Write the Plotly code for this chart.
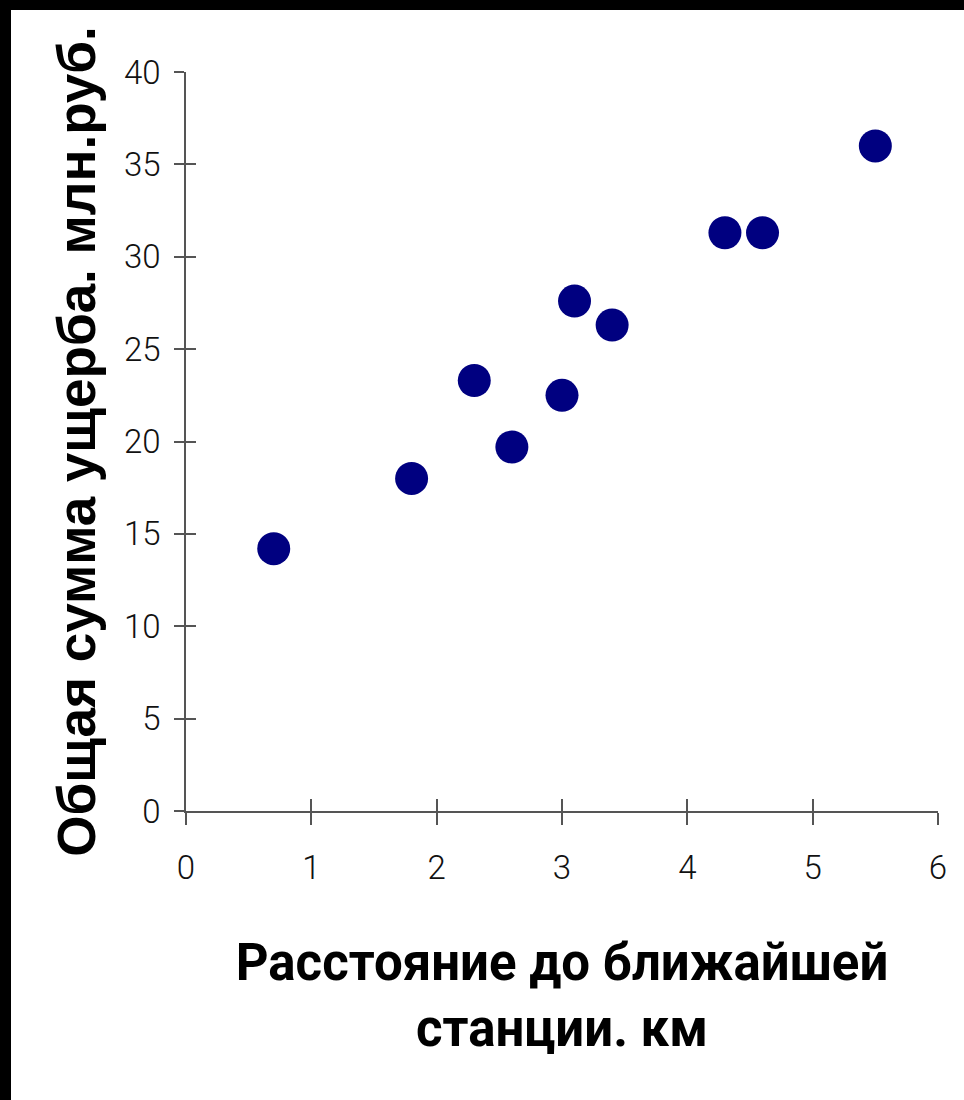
import plotly.graph_objects as go

# Data
distance_km = [0.7, 1.8, 2.3, 2.6, 3.0, 3.1, 3.4, 4.3, 4.6, 5.5]
damage_mln_rub = [14.2, 18.0, 23.3, 19.7, 22.5, 27.6, 26.3, 31.3, 31.3, 36.0]

x_ticks = [0, 1, 2, 3, 4, 5, 6]
y_ticks = [0, 5, 10, 15, 20, 25, 30, 35, 40]

x_title = "Расстояние до ближайшей<br>станции. км"
y_title = "Общая сумма ущерба. млн.руб."

W, H = 964, 1100
L, R, T, B = 186, 26, 72, 289
pw = W - L - R
ph = H - T - B

def px2paper_x(px):
    return (px - L) / pw

def px2paper_y(py):
    return (H - B - py) / ph

axis_color = "#555555"
tick_font = dict(family="Roboto, Liberation Sans, Arial", size=33, color="#111111", weight=300)

fig = go.Figure()
fig.add_trace(go.Scatter(
    x=distance_km, y=damage_mln_rub, mode="markers",
    marker=dict(color="#000080", size=33, line=dict(width=0)),
    showlegend=False, hoverinfo="x+y",
))
# helper trace so the overlay axes (inner half of crossing ticks) are drawn
fig.add_trace(go.Scatter(x=[None], y=[None], xaxis="x2", yaxis="y2",
                         mode="markers", showlegend=False, hoverinfo="skip"))

fig.update_layout(
    width=W, height=H,
    margin=dict(l=L, r=R, t=T, b=B, pad=0),
    paper_bgcolor="white", plot_bgcolor="white",
    xaxis=dict(
        range=[0, 6], tickvals=x_ticks, ticktext=[str(v) for v in x_ticks],
        showgrid=False, zeroline=False, showline=True, linecolor=axis_color, linewidth=1.5,
        ticks="outside", ticklen=12, tickwidth=1.5, tickcolor=axis_color,
        tickfont=tick_font, ticklabelstandoff=15,
        title=dict(text=x_title, standoff=58,
                   font=dict(family="Roboto, Arial", size=51,
                             color="black", weight="bold")),
        fixedrange=True,
    ),
    yaxis=dict(
        range=[0, 40], tickvals=y_ticks, ticktext=[str(v) for v in y_ticks],
        showgrid=False, zeroline=False, showline=True, linecolor=axis_color, linewidth=1.5,
        ticks="outside", ticklen=10, tickwidth=1.5, tickcolor=axis_color,
        tickfont=tick_font, ticklabelstandoff=7,
        title=dict(text=y_title, standoff=11,
                   font=dict(family="Liberation Sans, Arial", size=53,
                             color="black", weight="bold")),
        fixedrange=True,
    ),
    xaxis2=dict(
        overlaying="x", anchor="y2", side="bottom", range=[0, 6], tickvals=x_ticks,
        showgrid=False, zeroline=False, showline=False, showticklabels=False,
        ticks="inside", ticklen=12, tickwidth=1.5, tickcolor=axis_color, fixedrange=True,
    ),
    yaxis2=dict(
        overlaying="y", anchor="x2", side="left", range=[0, 40], tickvals=y_ticks,
        showgrid=False, zeroline=False, showline=False, showticklabels=False,
        ticks="inside", ticklen=10, tickwidth=1.5, tickcolor=axis_color, fixedrange=True,
    ),
    shapes=[
        dict(type="rect", xref="paper", yref="paper", layer="above",
             x0=px2paper_x(0), x1=px2paper_x(W), y0=px2paper_y(10), y1=px2paper_y(0),
             fillcolor="black", line=dict(width=0)),
        dict(type="rect", xref="paper", yref="paper", layer="above",
             x0=px2paper_x(0), x1=px2paper_x(11), y0=px2paper_y(H), y1=px2paper_y(0),
             fillcolor="black", line=dict(width=0)),
    ],
)

fig.write_html(
    "out.html",
    config={"displayModeBar": False},
    post_script="document.body.style.margin='0';document.body.style.overflow='hidden';",
)
